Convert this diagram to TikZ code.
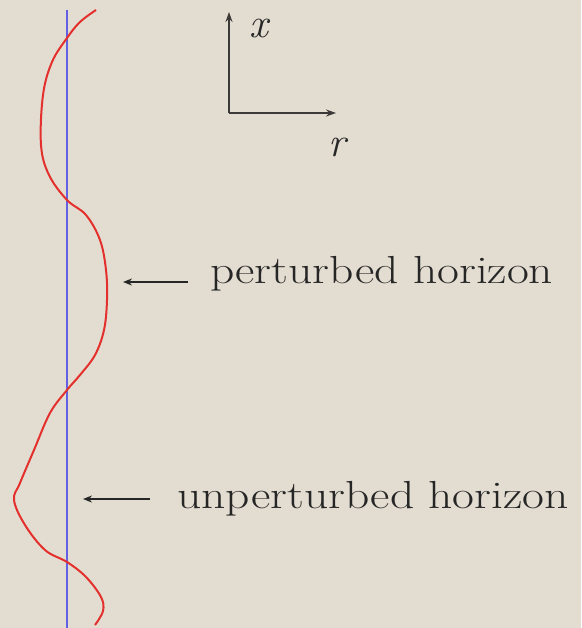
\documentclass[tikz,border=0pt]{standalone}
\usetikzlibrary{arrows.meta}
\definecolor{bg}{RGB}{227,221,209}
\definecolor{hred}{RGB}{228,48,44}
\definecolor{hblue}{RGB}{98,96,228}
\definecolor{axgray}{RGB}{60,58,56}
\tikzset{
  lbl/.style={anchor=base west, inner sep=0pt, text=black!85},
  ptr/.style={-{Stealth[length=9pt,width=7pt]}, line width=1.6pt, black!85},
  ax/.style={-{Stealth[length=10pt,width=7pt]}, line width=1.8pt, axgray},
  axlbl/.style={inner sep=0pt, text=black!85}
}
\newcommand{\bigtxt}[1]{\scalebox{1.25}[1.03]{\fontsize{38}{40}\selectfont #1}}
\begin{document}
\begin{tikzpicture}[x=1pt,y=-1pt]
\fill[bg] (0,0) rectangle (581,628);
\useasboundingbox (0,0) rectangle (581,628);
% unperturbed horizon
\draw[hblue, line width=2.2pt] (67,10) -- (67,628);
% perturbed horizon
\draw[hred, line width=2pt] plot[smooth, tension=0.6] coordinates {
 (96,10) (80,22) (67,38) (52,62) (43,95) (41,145) (49,175) (67,200)
 (86,215) (100,240) (106,270) (107,300) (104,330) (95,355) (80,375) (67,390)
 (50,413) (34,450) (20,483) (14,500) (25,525) (45,550) (67,562) (86,577)
 (101,597) (103,611) (95,625)};
% axes
\coordinate (o) at (229,113);
\coordinate (xt) at (229,12);
\coordinate (rt) at (336,113);
\draw[ax] (o) -- (xt);
\draw[ax] (o) -- (rt);
\node[axlbl] (xl) at (259,28) {\scalebox{1.1}{\fontsize{38}{40}\selectfont\itshape x}};
\node[axlbl] (rl) at (337,147) {\scalebox{1.1}{\fontsize{38}{40}\selectfont\itshape r}};
% labels
\node[lbl] (pl) at (210,283) {\bigtxt{perturbed horizon}};
\node[lbl] (ul) at (177,508) {\bigtxt{unperturbed horizon}};
\coordinate (pa) at (123,282);
\coordinate (ua) at (83,499);
\draw[ptr] ([xshift=-22pt,yshift=1pt]pl.base west) -- (pa);
\draw[ptr] ([xshift=-27pt,yshift=9pt]ul.base west) -- (ua);
\end{tikzpicture}
\end{document}
